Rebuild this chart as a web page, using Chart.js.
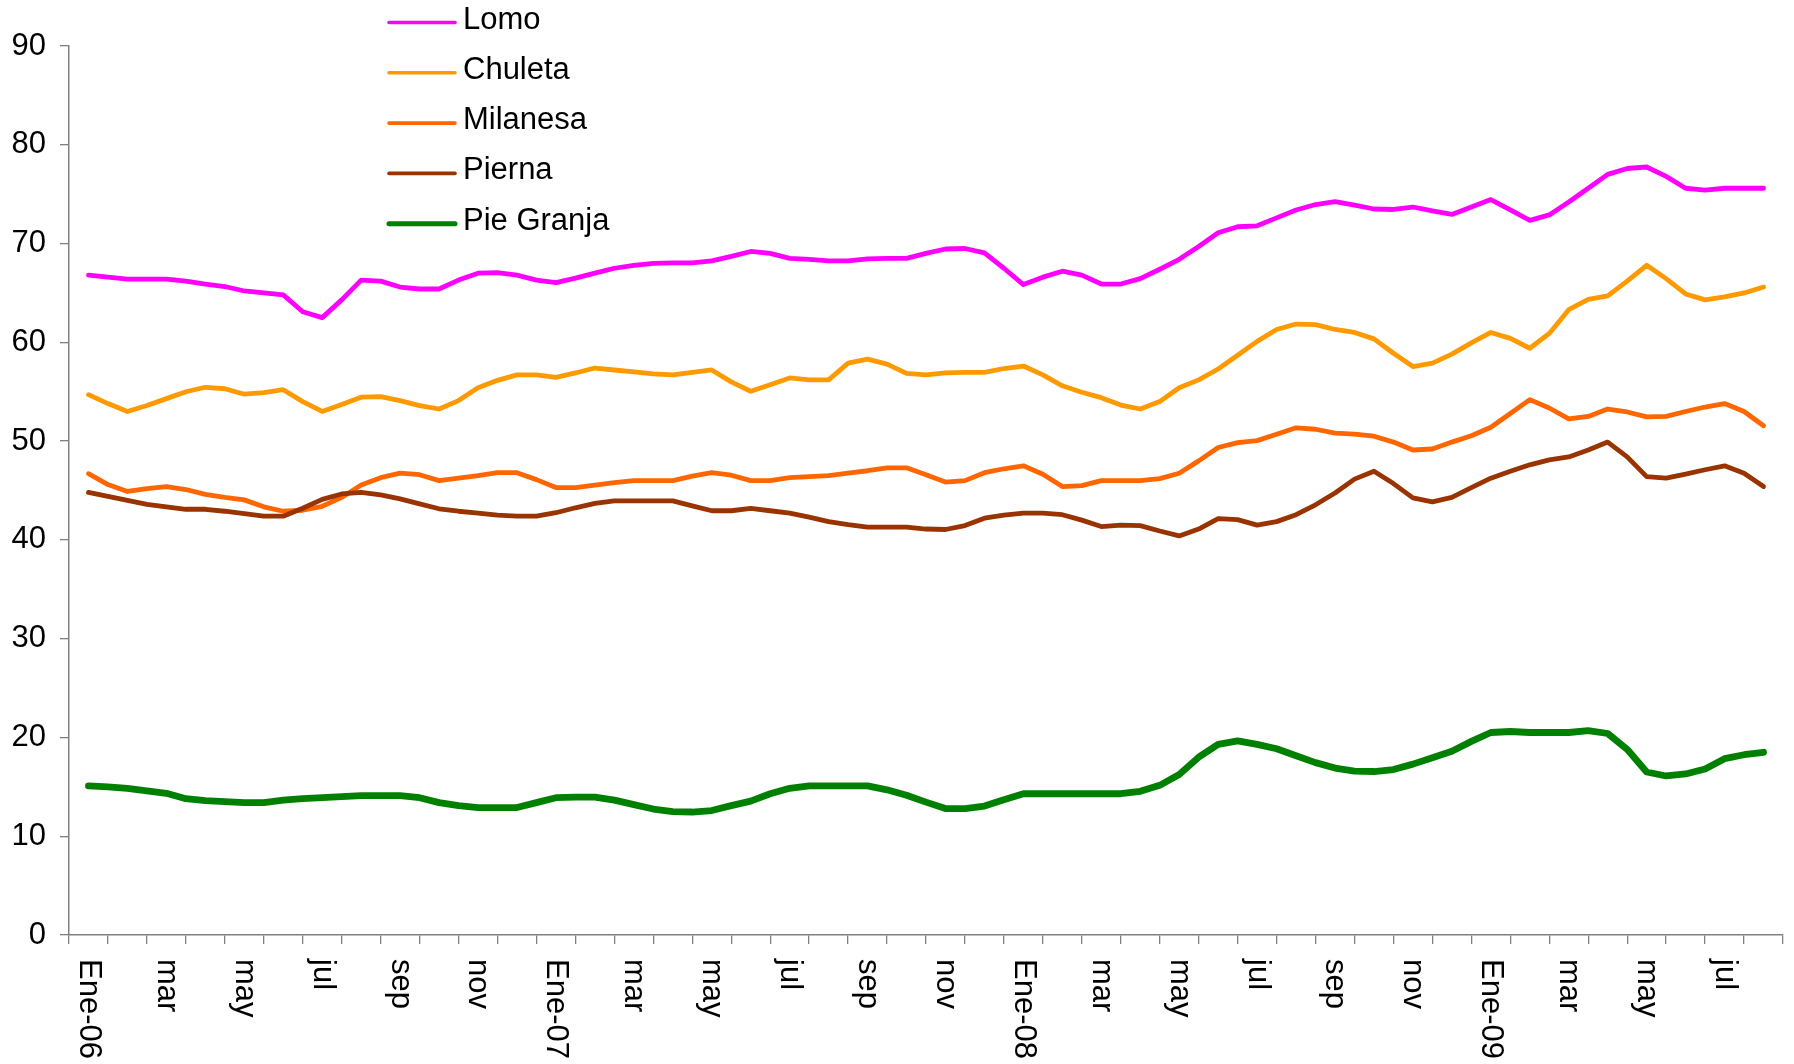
<!DOCTYPE html>
<html>
<head>
<meta charset="utf-8">
<script src="https://cdn.jsdelivr.net/npm/chart.js@4.4.1/dist/chart.umd.min.js"></script>
<style>
  html, body { margin: 0; padding: 0; background: #fff; }
  #wrap { width: 1794px; height: 1064px; }
</style>
</head>
<body>
<div id="wrap"><canvas id="myChart"></canvas></div>
<script>
// x tick labels, one every two months starting Jan 2006
const monthLabels = ["Ene-06", "mar", "may", "jul", "sep", "nov",
  "Ene-07", "mar", "may", "jul", "sep", "nov",
  "Ene-08", "mar", "may", "jul", "sep", "nov",
  "Ene-09", "mar", "may", "jul"];

// half-monthly prices, Jan 2006 .. Aug 2009
const lomo = [66.8, 66.6, 66.4, 66.4, 66.4, 66.2, 65.9, 65.65, 65.2, 65.0, 64.8, 63.1, 62.5, 64.3, 66.3,
  66.2, 65.6, 65.4, 65.4, 66.3, 67.0, 67.05, 66.8, 66.3, 66.05, 66.5, 67.0, 67.5, 67.8, 68.0,
  68.05, 68.05, 68.25, 68.7, 69.2, 69.0, 68.5, 68.4, 68.25, 68.25, 68.45, 68.5, 68.5, 69.0,
  69.45, 69.5, 69.05, 67.5, 65.85, 66.6, 67.2, 66.8, 65.9, 65.9, 66.45, 67.4, 68.4, 69.7,
  71.1, 71.7, 71.8, 72.6, 73.4, 73.95, 74.25, 73.9, 73.5, 73.45, 73.7, 73.3, 72.95, 73.7, 74.45,
  73.4, 72.35, 72.9, 74.2, 75.6, 77.0, 77.6, 77.75, 76.8, 75.6, 75.4, 75.6, 75.6, 75.6];

const chuleta = [54.7, 53.8, 53.0, 53.6, 54.3, 55.0, 55.45, 55.3, 54.75, 54.9, 55.2, 54.0, 53.0, 53.7, 54.45,
  54.5, 54.1, 53.6, 53.25, 54.1, 55.4, 56.15, 56.7, 56.7, 56.45, 56.9, 57.4, 57.2, 57.0, 56.8,
  56.7, 56.95, 57.2, 56.0, 55.05, 55.7, 56.4, 56.2, 56.2, 57.9, 58.3, 57.8, 56.85, 56.7,
  56.9, 56.95, 56.95, 57.35, 57.6, 56.7, 55.6, 54.95, 54.4, 53.65, 53.25, 54.0, 55.4, 56.2,
  57.3, 58.7, 60.1, 61.3, 61.85, 61.8, 61.3, 61.0, 60.35, 58.9, 57.55, 57.9, 58.8, 59.95, 61.0,
  60.4, 59.4, 60.9, 63.3, 64.35, 64.7, 66.2, 67.8, 66.45, 64.9, 64.3, 64.6, 65.0, 65.6];

const milanesa = [46.7, 45.6, 44.9, 45.2, 45.4, 45.1, 44.6, 44.3, 44.05, 43.35, 42.9, 43.0, 43.4, 44.3, 45.55,
  46.3, 46.75, 46.6, 46.0, 46.25, 46.5, 46.8, 46.8, 46.1, 45.3, 45.3, 45.55, 45.8, 46.0, 46.0,
  46.0, 46.45, 46.8, 46.55, 46.0, 46.0, 46.3, 46.4, 46.5, 46.75, 47.0, 47.3, 47.3, 46.6,
  45.85, 46.0, 46.8, 47.2, 47.5, 46.65, 45.4, 45.5, 46.0, 46.0, 46.0, 46.2, 46.75, 48.0,
  49.35, 49.85, 50.05, 50.7, 51.35, 51.2, 50.8, 50.7, 50.5, 49.9, 49.1, 49.2, 49.9, 50.55, 51.4,
  52.8, 54.2, 53.35, 52.25, 52.5, 53.25, 52.95, 52.45, 52.5, 53.0, 53.45, 53.8, 53.0, 51.55];

const pierna = [44.8, 44.4, 44.0, 43.6, 43.35, 43.1, 43.1, 42.9, 42.65, 42.4, 42.4, 43.2, 44.1, 44.65, 44.8,
  44.55, 44.15, 43.65, 43.15, 42.9, 42.7, 42.5, 42.4, 42.4, 42.75, 43.25, 43.7, 43.95, 43.95, 43.95,
  43.95, 43.45, 42.95, 42.95, 43.2, 42.95, 42.7, 42.3, 41.85, 41.55, 41.3, 41.3, 41.3, 41.1,
  41.05, 41.45, 42.2, 42.5, 42.7, 42.7, 42.55, 42.0, 41.35, 41.5, 41.45, 40.9, 40.4, 41.1,
  42.15, 42.05, 41.5, 41.85, 42.55, 43.55, 44.75, 46.15, 46.95, 45.7, 44.25, 43.85, 44.3, 45.3, 46.25,
  46.95, 47.6, 48.1, 48.4, 49.1, 49.9, 48.4, 46.4, 46.25, 46.65, 47.1, 47.5, 46.75, 45.4];

const pieGranja = [15.1, 15.0, 14.85, 14.6, 14.35, 13.8, 13.6, 13.5, 13.4, 13.4, 13.65, 13.8, 13.9, 14.0, 14.1,
  14.1, 14.1, 13.9, 13.4, 13.1, 12.9, 12.9, 12.9, 13.4, 13.9, 13.95, 13.95, 13.65, 13.2, 12.75,
  12.5, 12.45, 12.6, 13.1, 13.55, 14.3, 14.85, 15.1, 15.1, 15.1, 15.1, 14.7, 14.15,
  13.45, 12.8, 12.8, 13.05, 13.7, 14.3, 14.3, 14.3, 14.3, 14.3, 14.3, 14.55, 15.15, 16.25, 18.0,
  19.3, 19.65, 19.3, 18.85, 18.15, 17.45, 16.9, 16.6, 16.55, 16.75, 17.3, 17.95, 18.6, 19.6,
  20.5, 20.6, 20.5, 20.5, 20.5, 20.7, 20.4, 18.8, 16.5, 16.1, 16.3, 16.8, 17.85, 18.25, 18.5];

const seriesNames = ["Lomo", "Chuleta", "Milanesa", "Pierna", "Pie Granja"];
const seriesData = [lomo, chuleta, milanesa, pierna, pieGranja];
const seriesColors = ["#ff00ff", "#ff9900", "#ff6600", "#993300", "#008000"];
const seriesWidths = [4.8, 4.8, 4.8, 4.8, 6.8];
const legendWidths = [3.6, 3.6, 3.6, 3.6, 5];

const yTicks = [0, 10, 20, 30, 40, 50, 60, 70, 80, 90];
const pointsPerMonth = 2;
const lastMonth = 43;

const FONT = '"Liberation Sans", Arial, Helvetica, sans-serif';
const FONT_SIZE = 31;
const AXIS_COLOR = "#808080";

function toPoints(values) {
  return values.map((v, i) => ({ x: i / pointsPerMonth, y: v }));
}

// rotated month labels (read top to bottom) under the x axis
const xLabelsPlugin = {
  id: "xLabels",
  afterDraw(chart) {
    const ctx = chart.ctx;
    const xs = chart.scales.x;
    ctx.save();
    ctx.font = FONT_SIZE + "px " + FONT;
    ctx.fillStyle = "#000";
    ctx.textAlign = "left";
    ctx.textBaseline = "middle";
    monthLabels.forEach((lab, i) => {
      const px = xs.getPixelForValue(i * 2);
      ctx.save();
      ctx.translate(px, chart.chartArea.bottom + 24);
      ctx.rotate(Math.PI / 2);
      ctx.fillText(lab, 0, 0);
      ctx.restore();
    });
    ctx.restore();
  }
};

// legend stacked at the top, partly over the plot
const legendPlugin = {
  id: "sideLegend",
  afterDraw(chart) {
    const ctx = chart.ctx;
    ctx.save();
    ctx.font = FONT_SIZE + "px " + FONT;
    ctx.textAlign = "left";
    ctx.textBaseline = "middle";
    ctx.lineCap = "round";
    seriesNames.forEach((name, i) => {
      const y = 20 + i * 50.3;
      ctx.strokeStyle = seriesColors[i];
      ctx.lineWidth = legendWidths[i];
      ctx.beginPath();
      ctx.moveTo(389, y + 2.5);
      ctx.lineTo(455, y + 2.5);
      ctx.stroke();
      ctx.fillStyle = "#000";
      ctx.fillText(name, 463, y);
    });
    ctx.restore();
  }
};

const datasets = seriesNames.map((name, i) => ({
  label: name,
  data: toPoints(seriesData[i]),
  borderColor: seriesColors[i],
  backgroundColor: seriesColors[i],
  borderWidth: seriesWidths[i],
  pointRadius: 0,
  tension: 0,
  borderJoinStyle: "round",
  borderCapStyle: "round",
  order: seriesNames.length - i
}));

const config = {
  type: "line",
  data: { datasets: datasets },
  options: {
    responsive: true,
    maintainAspectRatio: false,
    animation: false,
    layout: { padding: { top: 46, right: 11, bottom: 120, left: 0 } },
    plugins: { legend: { display: false }, tooltip: { enabled: false } },
    scales: {
      x: {
        type: "linear",
        min: -0.5,
        max: lastMonth + 0.5,
        afterBuildTicks: (axis) => {
          const t = [];
          for (let m = -0.5; m <= lastMonth + 0.5; m += 1) t.push({ value: m });
          axis.ticks = t;
        },
        ticks: { display: false },
        grid: { drawOnChartArea: false, drawTicks: true, tickLength: 9, color: AXIS_COLOR, lineWidth: 1.3 },
        border: { display: true, color: AXIS_COLOR, width: 1.5 }
      },
      y: {
        min: 0,
        max: 90,
        afterBuildTicks: (axis) => { axis.ticks = yTicks.map(v => ({ value: v })); },
        afterFit: (scale) => { scale.width = 69; },
        ticks: {
          color: "#000",
          padding: 14,
          font: { family: FONT, size: FONT_SIZE }
        },
        grid: { drawOnChartArea: false, drawTicks: true, tickLength: 9, color: AXIS_COLOR, lineWidth: 1.3 },
        border: { display: true, color: AXIS_COLOR, width: 1.5 }
      }
    }
  },
  plugins: [xLabelsPlugin, legendPlugin]
};

const myChart = new Chart(document.getElementById("myChart"), config);
</script>
</body>
</html>
